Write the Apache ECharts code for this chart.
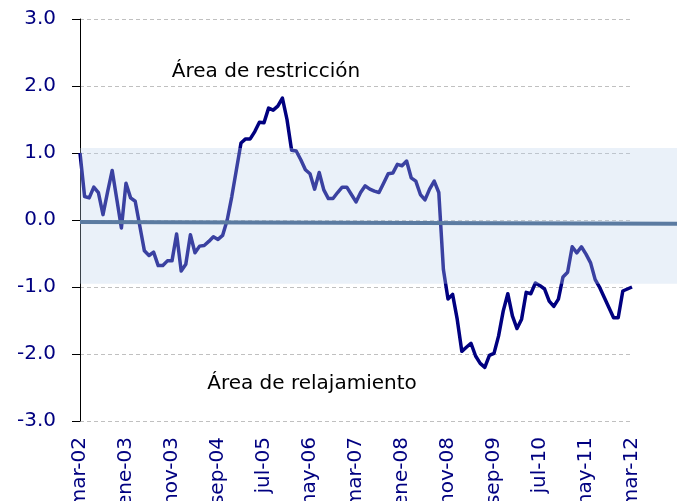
<!DOCTYPE html>
<html><head><meta charset="utf-8">
<script src="https://cdn.jsdelivr.net/npm/echarts@6/dist/echarts.min.js"></script>
<style>html,body{margin:0;padding:0;background:#fff}#c{width:683px;height:501px}</style>
</head><body><div id="c"></div>
<script>
// Tick label pieces
const monthNames = ['ene','feb','mar','abr','may','jun','jul','ago','sep','oct','nov','dic'];
const startYear = 2002;
const startMonthIndex = 2; // mar
const monthCount = 121;    // mar-02 .. mar-12

// Index values (monthly)
const values = [
  1.00, 0.35, 0.33, 0.49, 0.41, 0.08, 0.42, 0.74, 0.31, -0.12,
  0.55, 0.33, 0.28, -0.09, -0.46, -0.53, -0.48, -0.68, -0.68, -0.61,
  -0.61, -0.21, -0.76, -0.66, -0.22, -0.49, -0.39, -0.38, -0.32, -0.25,
  -0.29, -0.23, 0.00, 0.35, 0.75, 1.15, 1.21, 1.21, 1.32, 1.46,
  1.45, 1.67, 1.64, 1.70, 1.82, 1.50, 1.04, 1.03, 0.90, 0.75,
  0.69, 0.46, 0.71, 0.45, 0.32, 0.32, 0.41, 0.49, 0.49, 0.38,
  0.27, 0.41, 0.51, 0.46, 0.43, 0.41, 0.55, 0.69, 0.70, 0.83,
  0.81, 0.88, 0.63, 0.58, 0.38, 0.30, 0.46, 0.58, 0.41, -0.74,
  -1.18, -1.11, -1.48, -1.96, -1.90, -1.84, -2.03, -2.14, -2.20, -2.02,
  -1.99, -1.73, -1.36, -1.10, -1.43, -1.62, -1.48, -1.08, -1.10, -0.94,
  -0.98, -1.03, -1.21, -1.29, -1.18, -0.85, -0.78, -0.40, -0.49, -0.40,
  -0.51, -0.64, -0.89, -1.01, -1.16, -1.31, -1.46, -1.46, -1.06, -1.03,
  -1.00
];

// Neutral band (upper, lower) and the reference line (start, end)
const bandLimits = [1.075, -0.95];
const referenceLine = [-0.03, -0.055];

// Y axis range
const yMin = -3, yMax = 3, yStep = 1;

// Annotations
const labelUpper = 'Área de restricción';
const labelLower = 'Área de relajamiento';

const categories = [];
for (let i = 0; i < monthCount; i++) {
  const m = (startMonthIndex + i) % 12;
  const y = startYear + Math.floor((startMonthIndex + i) / 12);
  categories.push(monthNames[m] + '-' + String(y % 100).padStart(2, '0'));
}

const FONT = 'DejaVu Sans';
const NAVY = '#000080';

const chart = echarts.init(document.getElementById('c'), null, {renderer: 'canvas'});
chart.setOption({
  animation: false,
  backgroundColor: '#ffffff',
  grid: [
    {left: 80, right: 51, top: 19, bottom: 80, containLabel: false, outerBoundsMode: 'none'},
    {left: 80, right: 6, top: 19, bottom: 80, containLabel: false, outerBoundsMode: 'none'}
  ],
  xAxis: [
    {
      type: 'category', gridIndex: 0, data: categories, boundaryGap: false,
      axisLine: {show: false}, axisTick: {show: false},
      axisLabel: {interval: 9, rotate: 90, margin: 16, color: NAVY, fontSize: 20, fontFamily: FONT},
      splitLine: {show: false}
    },
    {type: 'value', gridIndex: 1, min: 0, max: 1, show: false}
  ],
  yAxis: [
    {
      type: 'value', gridIndex: 0, min: yMin, max: yMax, interval: yStep,
      axisLine: {show: true, lineStyle: {color: '#000', width: 1}},
      axisTick: {show: true, inside: false, length: 8, lineStyle: {color: '#000', width: 1}},
      axisLabel: {margin: 24, color: NAVY, fontSize: 20, fontFamily: FONT,
        formatter: v => v.toFixed(1)},
      splitLine: {show: true, lineStyle: {color: '#c0c0c0', type: [4, 3], width: 1}}
    },
    {type: 'value', gridIndex: 1, min: yMin, max: yMax, show: false}
  ],
  series: [
    {
      type: 'line', xAxisIndex: 0, yAxisIndex: 0, data: values,
      symbol: 'none', z: 2,
      lineStyle: {color: NAVY, width: 3.5, join: 'round'}
    },
    {
      type: 'custom', xAxisIndex: 1, yAxisIndex: 1, z: 3,
      data: [[0, bandLimits[0], 1, bandLimits[1]]],
      encode: {x: [0, 2], y: [1, 3]},
      renderItem: function (params, api) {
        const p1 = api.coord([api.value(0), api.value(1)]);
        const p2 = api.coord([api.value(2), api.value(3)]);
        return {
          type: 'rect',
          shape: {x: p1[0], y: p1[1], width: p2[0] - p1[0], height: p2[1] - p1[1]},
          style: {fill: 'rgba(187,210,235,0.31)'}
        };
      }
    },
    {
      type: 'line', xAxisIndex: 1, yAxisIndex: 1, z: 4,
      data: [[0, referenceLine[0]], [1, referenceLine[1]]],
      symbol: 'none',
      lineStyle: {color: '#5b7ba1', width: 4}
    }
  ],
  graphic: [
    {type: 'text', x: 266, y: 72, z: 10,
      style: {text: labelUpper, fill: '#000', font: '20px "DejaVu Sans"', align: 'center', verticalAlign: 'middle'}},
    {type: 'text', x: 312, y: 384, z: 10,
      style: {text: labelLower, fill: '#000', font: '20px "DejaVu Sans"', align: 'center', verticalAlign: 'middle'}}
  ]
});
</script>
</body></html>
